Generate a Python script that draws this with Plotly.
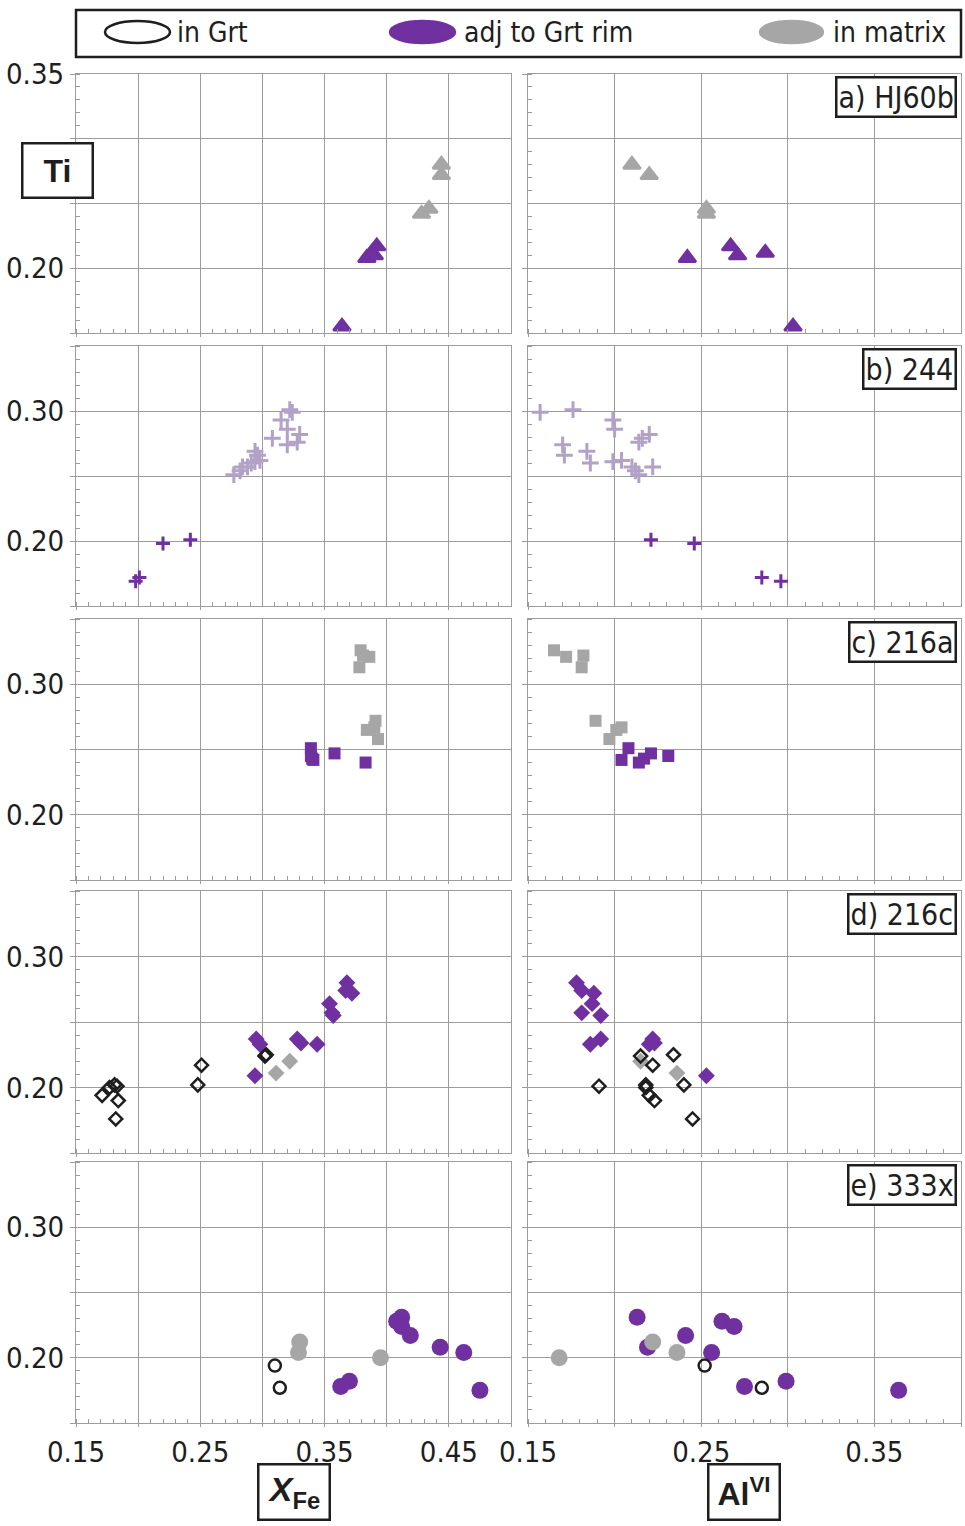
import plotly.graph_objects as go

# ---------------------------------------------------------------------------
# Biotite compositions: XFe, Al(VI) and Ti (a.p.f.u.) for five samples
# ---------------------------------------------------------------------------

# a) HJ60b
a_mtx_xfe = [0.444, 0.444, 0.434, 0.428]
a_mtx_al = [0.210, 0.220, 0.253, 0.253]
a_mtx_ti = [0.280, 0.272, 0.246, 0.242]

a_adj_xfe = [0.384, 0.392, 0.390, 0.388, 0.364]
a_adj_al = [0.242, 0.267, 0.271, 0.287, 0.303]
a_adj_ti = [0.208, 0.217, 0.210, 0.212, 0.155]

# b) 244
b_pale_xfe = [0.324, 0.322, 0.315, 0.320, 0.330, 0.308, 0.328, 0.320, 0.294,
              0.296, 0.298, 0.294, 0.291, 0.288, 0.284, 0.282, 0.277]
b_pale_al = [0.157, 0.176, 0.199, 0.200, 0.220, 0.216, 0.214, 0.170, 0.184,
             0.171, 0.204, 0.199, 0.186, 0.210, 0.222, 0.212, 0.214]
b_pale_ti = [0.299, 0.301, 0.293, 0.286, 0.282, 0.279, 0.276, 0.274, 0.269,
             0.266, 0.262, 0.261, 0.260, 0.257, 0.257, 0.254, 0.251]

b_adj_xfe = [0.198, 0.201, 0.220, 0.242]
b_adj_al = [0.296, 0.285, 0.246, 0.221]
b_adj_ti = [0.169, 0.172, 0.198, 0.201]

# c) 216a
c_mtx_xfe = [0.379, 0.386, 0.381, 0.378, 0.391, 0.384, 0.390, 0.393]
c_mtx_al = [0.165, 0.172, 0.182, 0.181, 0.189, 0.201, 0.204, 0.197]
c_mtx_ti = [0.326, 0.321, 0.322, 0.313, 0.272, 0.265, 0.267, 0.258]

c_adj_xfe = [0.339, 0.339, 0.341, 0.340, 0.358, 0.383]
c_adj_al = [0.208, 0.231, 0.204, 0.217, 0.221, 0.214]
c_adj_ti = [0.251, 0.245, 0.242, 0.243, 0.247, 0.240]

# d) 216c
d_grt_xfe = [0.171, 0.177, 0.181, 0.183, 0.184, 0.182, 0.248, 0.251, 0.302, 0.303]
d_grt_al = [0.220, 0.218, 0.240, 0.191, 0.223, 0.245, 0.218, 0.222, 0.215, 0.234]
d_grt_ti = [0.194, 0.200, 0.202, 0.201, 0.190, 0.176, 0.202, 0.217, 0.224, 0.225]

d_mtx_xfe = [0.311, 0.322]
d_mtx_al = [0.236, 0.215]
d_mtx_ti = [0.211, 0.220]

d_adj_xfe = [0.368, 0.367, 0.372, 0.354, 0.356, 0.357, 0.295, 0.298, 0.328,
             0.331, 0.344, 0.294]
d_adj_al = [0.178, 0.181, 0.188, 0.187, 0.181, 0.192, 0.192, 0.186, 0.222,
            0.223, 0.220, 0.253]
d_adj_ti = [0.280, 0.274, 0.272, 0.264, 0.257, 0.255, 0.237, 0.233, 0.237,
            0.234, 0.233, 0.209]

# e) 333x
e_grt_xfe = [0.310, 0.314]
e_grt_al = [0.252, 0.285]
e_grt_ti = [0.194, 0.177]

e_mtx_xfe = [0.395, 0.330, 0.329]
e_mtx_al = [0.168, 0.222, 0.236]
e_mtx_ti = [0.200, 0.212, 0.204]

e_adj_xfe = [0.412, 0.408, 0.412, 0.419, 0.443, 0.462, 0.363, 0.370, 0.475]
e_adj_al = [0.213, 0.262, 0.269, 0.241, 0.219, 0.256, 0.275, 0.299, 0.364]
e_adj_ti = [0.231, 0.228, 0.224, 0.217, 0.208, 0.204, 0.178, 0.182, 0.175]

panel_labels = ["a) HJ60b", "b) 244", "c) 216a", "d) 216c", "e) 333x"]
ti_tick_labels = [["0.35", "0.20"], ["0.30", "0.20"], ["0.30", "0.20"],
                  ["0.30", "0.20"], ["0.30", "0.20"]]
xfe_tick_labels = ["0.15", "0.25", "0.35", "0.45"]
al_tick_labels = ["0.15", "0.25", "0.35"]

# ---------------------------------------------------------------------------
# Styling
# ---------------------------------------------------------------------------
PURPLE = "#7030A0"
LAVENDER = "#B3A2C7"
GRAY = "#A6A6A6"
INK = "#1e1e1e"
GRID = "#9c9c9c"
NARROW = "DejaVu Sans Condensed, Liberation Sans Narrow, sans-serif"
BOLD_SANS = "Liberation Sans, Arial, sans-serif"


def nfont(size):
    return dict(family=NARROW, size=size, color=INK)


W, H = 965, 1526


def fx(p):
    return p / W


def fy(p):
    return 1 - p / H


col_px = [(76, 511), (528, 961)]
row_px = [(74, 333), (346, 606), (619, 880), (891, 1153), (1162, 1423)]
x_ranges = [(0.15, 0.50), (0.15, 0.40)]


def sty(symbol, size, color, line_color=None, line_width=0):
    return dict(symbol=symbol, size=size, color=color,
                line=dict(color=line_color or color, width=line_width))


tri_gray = sty("triangle-up", 15, GRAY, GRAY, 2.5)
tri_purple = sty("triangle-up", 15, PURPLE, PURPLE, 2.5)
cross_pale = sty("cross-thin", 12, LAVENDER, LAVENDER, 3)
cross_purple = sty("cross-thin", 10, PURPLE, PURPLE, 3)
sq_gray = sty("square", 12, GRAY)
sq_purple = sty("square", 12, PURPLE)
dia_open = sty("diamond-open", 10, INK, INK, 2.5)
dia_gray = sty("diamond", 13, GRAY)
dia_purple = sty("diamond", 13, PURPLE)
circ_open = sty("circle-open", 12, INK, INK, 2.5)
circ_gray = sty("circle", 17, GRAY)
circ_purple = sty("circle", 17, PURPLE)

# (xfe, al, ti, marker) per sample, in drawing order
panels = [
    [(a_mtx_xfe, a_mtx_al, a_mtx_ti, tri_gray),
     (a_adj_xfe, a_adj_al, a_adj_ti, tri_purple)],
    [(b_pale_xfe, b_pale_al, b_pale_ti, cross_pale),
     (b_adj_xfe, b_adj_al, b_adj_ti, cross_purple)],
    [(c_mtx_xfe, c_mtx_al, c_mtx_ti, sq_gray),
     (c_adj_xfe, c_adj_al, c_adj_ti, sq_purple)],
    [(d_adj_xfe, d_adj_al, d_adj_ti, dia_purple),
     (d_mtx_xfe, d_mtx_al, d_mtx_ti, dia_gray),
     (d_grt_xfe, d_grt_al, d_grt_ti, dia_open)],
    [(e_adj_xfe, e_adj_al, e_adj_ti, circ_purple),
     (e_mtx_xfe, e_mtx_al, e_mtx_ti, circ_gray),
     (e_grt_xfe, e_grt_al, e_grt_ti, circ_open)],
]

fig = go.Figure()

for r, groups in enumerate(panels):
    for c in range(2):
        idx = 2 * r + c + 1
        xa = "x" if idx == 1 else f"x{idx}"
        ya = "y" if idx == 1 else f"y{idx}"
        for xfe, al, ti, mk in groups:
            fig.add_trace(go.Scatter(
                x=xfe if c == 0 else al, y=ti, mode="markers",
                marker=mk, xaxis=xa, yaxis=ya, showlegend=False,
                hoverinfo="skip", cliponaxis=False))

layout_axes = {}
for r in range(5):
    for c in range(2):
        idx = 2 * r + c + 1
        sfx = "" if idx == 1 else str(idx)
        lo, hi = x_ranges[c]
        xt = [round(lo + 0.05 * k, 2) for k in range(int(round((hi - lo) / 0.05)) + 1)]
        labels = xfe_tick_labels if c == 0 else al_tick_labels
        xtext = [f"{v:.2f}" if f"{v:.2f}" in labels else "" for v in xt]
        yt = [0.15, 0.20, 0.25, 0.30, 0.35]
        ytext = [f"{v:.2f}" if f"{v:.2f}" in ti_tick_labels[r] else "" for v in yt]
        common = dict(
            ticks="outside", tickwidth=1, tickcolor=GRID,
            showgrid=True, gridcolor=GRID, gridwidth=1.2,
            showline=True, linecolor=GRID, linewidth=1.2, mirror=True,
            zeroline=False, automargin=False,
            minor=dict(dtick=0.01, tick0=0.15, ticks="inside", ticklen=4,
                       tickwidth=1, tickcolor=GRID, showgrid=False),
            tickfont=nfont(29),
        )
        layout_axes[f"xaxis{sfx}"] = dict(
            domain=[fx(col_px[c][0]), fx(col_px[c][1])],
            anchor=f"y{sfx}" if sfx else "y",
            range=[lo, hi], tickmode="array", tickvals=xt, ticktext=xtext,
            showticklabels=(r == 4), ticklen=3, **common)
        layout_axes[f"yaxis{sfx}"] = dict(
            domain=[fy(row_px[r][1]), fy(row_px[r][0])],
            anchor=f"x{sfx}" if sfx else "x",
            range=[0.15, 0.35], tickmode="array", tickvals=yt, ticktext=ytext,
            showticklabels=(c == 0), ticklen=5, **common)

annotations = []
# sample labels in the right-hand column
for r, lab in enumerate(panel_labels):
    annotations.append(dict(
        text=lab, xref="paper", yref="paper", x=fx(957), y=fy(row_px[r][0] + 2),
        xanchor="right", yanchor="top", showarrow=False, font=nfont(30),
        bgcolor="white", bordercolor=INK, borderwidth=2.5, borderpad=1))

# axis titles
annotations.append(dict(
    text="<b>Ti</b>", xref="paper", yref="paper", x=fx(57.5), y=fy(170.5),
    xanchor="center", yanchor="middle", showarrow=False, width=68, height=52,
    font=dict(family=BOLD_SANS, size=32, color=INK),
    bgcolor="white", bordercolor=INK, borderwidth=2.5, borderpad=0))
annotations.append(dict(
    text="<b><i>X</i></b><sub><b>Fe</b></sub>", xref="paper", yref="paper",
    x=fx(294), y=fy(1492), xanchor="center", yanchor="middle", showarrow=False,
    width=69, height=53, font=dict(family=BOLD_SANS, size=34, color=INK),
    bgcolor="white", bordercolor=INK, borderwidth=2.5, borderpad=0))
annotations.append(dict(
    text="<b>Al</b><sup><b>VI</b></sup>", xref="paper", yref="paper",
    x=fx(744), y=fy(1492), xanchor="center", yanchor="middle", showarrow=False,
    width=69, height=53, font=dict(family=BOLD_SANS, size=32, color=INK),
    bgcolor="white", bordercolor=INK, borderwidth=2.5, borderpad=0))

# key entries
key_items = [("in Grt", 105, 170, 175, "white", INK),
             ("adj to Grt rim", 390, 455, 462, PURPLE, PURPLE),
             ("in matrix", 760, 823, 831, GRAY, GRAY)]
shapes = [dict(type="rect", xref="paper", yref="paper",
               x0=fx(76), x1=fx(961), y0=fy(57), y1=fy(10),
               line=dict(color=INK, width=2.5), fillcolor="white", layer="above")]
for text, e0, e1, tx, fill, edge in key_items:
    shapes.append(dict(type="circle", xref="paper", yref="paper",
                       x0=fx(e0), x1=fx(e1), y0=fy(43), y1=fy(21),
                       fillcolor=fill, line=dict(color=edge, width=2.5),
                       layer="above"))
    annotations.append(dict(
        text=text, xref="paper", yref="paper", x=fx(tx), y=fy(33),
        xanchor="left", yanchor="middle", showarrow=False, font=nfont(28)))

fig.update_layout(
    width=W, height=H, margin=dict(l=0, r=0, t=0, b=0),
    paper_bgcolor="white", plot_bgcolor="white", showlegend=False,
    annotations=annotations, shapes=shapes, **layout_axes)

fig.write_html("out.html")
